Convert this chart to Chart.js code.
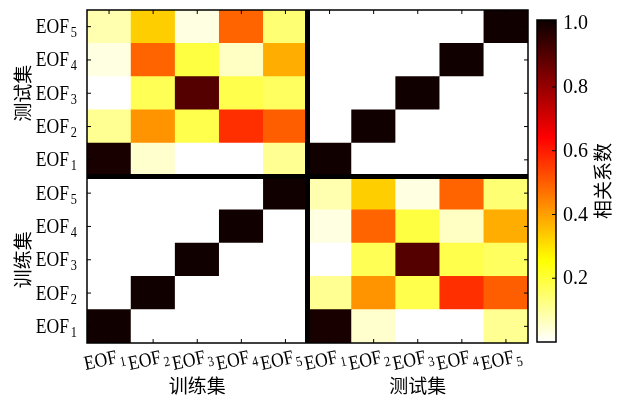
<!DOCTYPE html>
<html>
<head>
<meta charset="utf-8">
<script src="https://cdn.jsdelivr.net/npm/chart.js@4.4.1/dist/chart.umd.min.js"></script>
<style>
  body { margin: 0; background: #fff; }
  #wrap { width: 625px; height: 396px; }
</style>
</head>
<body>
<div id="wrap"><canvas id="heat" width="625" height="396"></canvas></div>
<script>
// DATA

// EOF index subscripts and the two data sets
const eofSubs = ["1", "2", "3", "4", "5"];
const setNames = ["训练集", "测试集"];

// 测试集 EOF (rows, EOF1 first) vs 训练集 EOF (cols) - same block is shown bottom right
const crossCorr = [
  [0.99, 0.05, 0.00, 0.00, 0.11],
  [0.11, 0.42, 0.18, 0.57, 0.50],
  [0.00, 0.17, 0.90, 0.18, 0.16],
  [0.03, 0.49, 0.19, 0.06, 0.38],
  [0.08, 0.33, 0.03, 0.49, 0.14]
];

// a set against itself
const selfCorr = [
  [1, 0, 0, 0, 0],
  [0, 1, 0, 0, 0],
  [0, 0, 1, 0, 0],
  [0, 0, 0, 1, 0],
  [0, 0, 0, 0, 1]
];

const cbTicks = [0.2, 0.4, 0.6, 0.8, 1.0];
const cbMin = 0;
const cbMax = 1.01;

// matplotlib "hot", reversed
function hotR(v) {
  const x = 1 - (v - cbMin) / (cbMax - cbMin);
  const a = 0.365079, b = 0.746032;
  const r = x < a ? 0.0416 + (1 - 0.0416) * x / a : 1;
  const g = x < a ? 0 : (x < b ? (x - a) / (b - a) : 1);
  const bl = x < b ? 0 : Math.min(1, (x - b) / (1 - b));
  return `rgb(${Math.round(r * 255)}, ${Math.round(g * 255)}, ${Math.round(bl * 255)})`;
}

// full 10x10 grid, row 0 = 训练集 EOF1 at the bottom
const colLabels = [];
setNames.forEach(s => eofSubs.forEach(e => colLabels.push(s + " EOF" + e)));

const grid = [];
for (let r = 0; r < 10; r++) {
  const row = [];
  for (let c = 0; c < 10; c++) {
    const trainRow = r < 5, trainCol = c < 5;
    const block = (trainRow === trainCol) ? selfCorr : crossCorr;
    row.push(block[r % 5][c % 5]);
  }
  grid.push(row);
}

const datasets = grid.map((row, r) => ({
  label: colLabels[r],
  data: row.map(() => [r, r + 1]),
  backgroundColor: row.map(v => hotR(v)),
  borderWidth: 0,
  grouped: false,
  barPercentage: 1,
  categoryPercentage: 1
}));

const serif = "'Liberation Serif', 'Times New Roman', serif";
const cjk = "'Noto Sans CJK SC', sans-serif";
const squeeze = 0.88; // tick text in the original is a bit narrow

// "EOF" + subscript, left edge at (x0, base) in the current frame
function eofLabel(ctx, sub, x0, base) {
  ctx.save();
  ctx.translate(x0, base);
  ctx.scale(squeeze, 1);
  ctx.textAlign = "left";
  ctx.textBaseline = "alphabetic";
  ctx.font = "20px " + serif;
  const w = ctx.measureText("EOF").width;
  ctx.fillText("EOF", 0, 0);
  ctx.font = "14px " + serif;
  ctx.fillText(sub, w + 2, 4);
  ctx.restore();
}

function eofWidth(ctx, sub) {
  ctx.save();
  ctx.font = "20px " + serif;
  const w = ctx.measureText("EOF").width;
  ctx.font = "14px " + serif;
  const ws = ctx.measureText(sub).width;
  ctx.restore();
  return (w + 2 + ws) * squeeze;
}

// axes, separators, labels and colour bar
const decorations = {
  id: "decorations",
  afterDatasetsDraw(chart) {
    const { ctx, chartArea: ca, scales: { x, y } } = chart;
    ctx.save();

    // thick lines between the blocks
    const midX = (x.getPixelForValue(4) + x.getPixelForValue(5)) / 2;
    const midY = y.getPixelForValue(5);
    ctx.fillStyle = "#000";
    ctx.fillRect(midX - 2.5, ca.top, 5, ca.bottom - ca.top);
    ctx.fillRect(ca.left, midY - 2.5, ca.right - ca.left, 5);

    // frame and inward ticks
    ctx.strokeStyle = "#000";
    ctx.lineWidth = 1.5;
    ctx.strokeRect(ca.left, ca.top, ca.right - ca.left, ca.bottom - ca.top);
    ctx.lineWidth = 1;
    ctx.beginPath();
    for (let i = 0; i < 10; i++) {
      const px = x.getPixelForValue(i);
      ctx.moveTo(px, ca.top); ctx.lineTo(px, ca.top + 4);
      ctx.moveTo(px, ca.bottom); ctx.lineTo(px, ca.bottom - 4);
      const py = y.getPixelForValue(i + 0.5);
      ctx.moveTo(ca.left, py); ctx.lineTo(ca.left + 4, py);
      ctx.moveTo(ca.right, py); ctx.lineTo(ca.right - 4, py);
    }
    ctx.stroke();

    ctx.fillStyle = "#000";
    // y tick labels
    for (let i = 0; i < 10; i++) {
      const py = y.getPixelForValue(i + 0.5);
      const sub = eofSubs[i % 5];
      eofLabel(ctx, sub, ca.left - 10 - eofWidth(ctx, sub), py + 6.5);
    }

    // x tick labels, a little rotated
    for (let i = 0; i < 10; i++) {
      const px = x.getPixelForValue(i);
      ctx.save();
      ctx.translate(px, 365);
      ctx.rotate(-12 * Math.PI / 180);
      eofLabel(ctx, eofSubs[i % 5], -24, 0);
      ctx.restore();
    }

    // set titles
    ctx.font = "19px " + cjk;
    ctx.textAlign = "center";
    ctx.textBaseline = "middle";
    const leftMid = (ca.left + midX) / 2, rightMid = (midX + ca.right) / 2;
    ctx.fillText(setNames[0], leftMid, 386);
    ctx.fillText(setNames[1], rightMid, 386);
    const upMid = (ca.top + midY) / 2, lowMid = (midY + ca.bottom) / 2;
    [[setNames[1], upMid], [setNames[0], lowMid]].forEach(([t, cy]) => {
      ctx.save();
      ctx.translate(23, cy);
      ctx.rotate(-Math.PI / 2);
      ctx.fillText(t, 0, 0);
      ctx.restore();
    });

    // colour bar
    const cbL = ca.right + 9, cbW = 19;
    const cbT = ca.top + 10, cbB = ca.bottom - 1;
    const toPx = v => cbB - (v - cbMin) / (cbMax - cbMin) * (cbB - cbT);
    for (let py = cbT; py < cbB; py += 1) {
      const v = cbMin + (cbB - py - 0.5) / (cbB - cbT) * (cbMax - cbMin);
      ctx.fillStyle = hotR(v);
      ctx.fillRect(cbL, py, cbW, 1.2);
    }
    ctx.strokeStyle = "#000";
    ctx.lineWidth = 1.5;
    ctx.strokeRect(cbL, cbT, cbW, cbB - cbT);
    ctx.lineWidth = 1;
    ctx.beginPath();
    cbTicks.forEach(t => {
      const py = toPx(t);
      ctx.moveTo(cbL + cbW, py); ctx.lineTo(cbL + cbW - 4, py);
    });
    ctx.stroke();
    ctx.fillStyle = "#000";
    ctx.font = "20px " + serif;
    ctx.textAlign = "left";
    ctx.textBaseline = "middle";
    cbTicks.forEach(t => ctx.fillText(t.toFixed(1), cbL + cbW + 7, toPx(t) + 1));

    ctx.font = "19px " + cjk;
    ctx.textAlign = "center";
    ctx.save();
    ctx.translate(603, (cbT + cbB) / 2);
    ctx.rotate(-Math.PI / 2);
    ctx.fillText("相关系数", 0, 0);
    ctx.restore();

    ctx.restore();
  }
};

new Chart(document.getElementById("heat").getContext("2d"), {
  type: "bar",
  data: { labels: colLabels, datasets: datasets },
  options: {
    responsive: false,
    animation: false,
    layout: { padding: { left: 87, right: 97, top: 10, bottom: 53 } },
    plugins: { legend: { display: false }, tooltip: { enabled: false } },
    scales: {
      x: { type: "category", display: false, offset: true },
      y: { type: "linear", display: false, min: 0, max: 10 }
    }
  },
  plugins: [decorations]
});
</script>
</body>
</html>
